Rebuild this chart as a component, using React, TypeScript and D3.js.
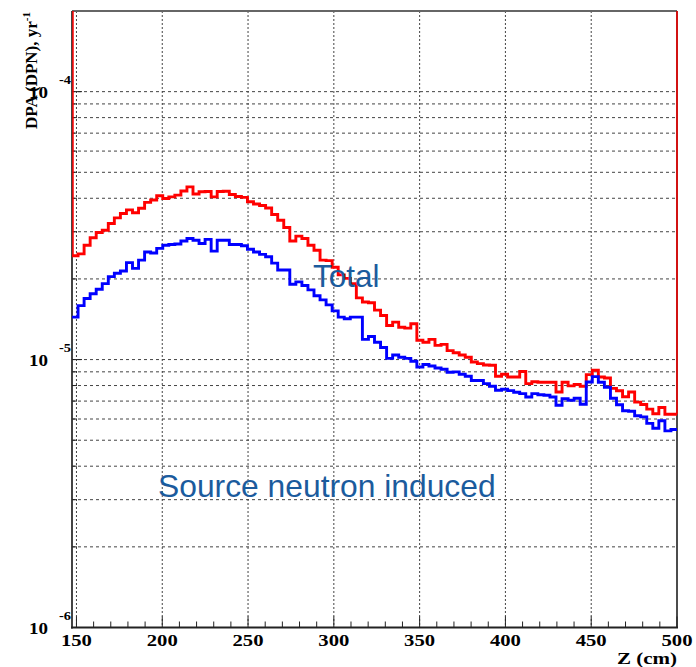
import React from "react";
import * as d3 from "d3";

// Z range of the histogram (cm) and bin count
const zMin = 147.4;
const zMax = 500;
const nBins = 100;

// Total DPA per bin, in units of 1e-5 /yr (red)
const totalDPA = [
  2.44, 2.48, 2.67, 2.85, 2.98, 3.04, 3.22, 3.38, 3.51, 3.62,
  3.53, 3.67, 3.86, 3.94, 4.09, 3.99, 4.05, 4.11, 4.26, 4.41,
  4.15, 4.23, 4.24, 4.05, 4.24, 4.25, 4.13, 4.06, 4.03, 3.88,
  3.81, 3.76, 3.68, 3.48, 3.31, 3.11, 2.77, 2.89, 2.83, 2.67,
  2.56, 2.35, 2.34, 2.21, 2.07, 2.01, 1.92, 1.70, 1.64, 1.63,
  1.53, 1.46, 1.34, 1.38, 1.32, 1.31, 1.36, 1.18, 1.16, 1.19,
  1.13, 1.14, 1.08, 1.06, 1.04, 1.02, 0.98, 0.966, 0.955, 0.952,
  0.866, 0.881, 0.861, 0.861, 0.903, 0.813, 0.826, 0.823, 0.823, 0.823,
  0.757, 0.823, 0.798, 0.807, 0.795, 0.879, 0.912, 0.861, 0.854, 0.781,
  0.765, 0.727, 0.757, 0.694, 0.68, 0.653, 0.628, 0.662, 0.625, 0.625,
];

// Source-neutron-induced DPA per bin, in units of 1e-5 /yr (blue)
const sourceDPA = [
  1.44, 1.59, 1.69, 1.76, 1.83, 1.92, 2.04, 2.1, 2.14, 2.3,
  2.19, 2.35, 2.52, 2.5, 2.6, 2.67, 2.69, 2.7, 2.77, 2.83,
  2.79, 2.71, 2.81, 2.54, 2.79, 2.79, 2.69, 2.69, 2.66, 2.58,
  2.52, 2.47, 2.42, 2.29, 2.16, 2.16, 1.91, 1.95, 1.89, 1.82,
  1.73, 1.67, 1.6, 1.52, 1.44, 1.42, 1.44, 1.44, 1.19, 1.22,
  1.16, 1.11, 1.01, 1.04, 1.02, 1.01, 0.986, 0.938, 0.958, 0.946,
  0.93, 0.92, 0.897, 0.9, 0.881, 0.866, 0.835, 0.835, 0.813, 0.795,
  0.768, 0.775, 0.766, 0.755, 0.746, 0.725, 0.746, 0.739, 0.736, 0.725,
  0.675, 0.714, 0.705, 0.717, 0.681, 0.825, 0.864, 0.823, 0.788, 0.717,
  0.678, 0.644, 0.641, 0.617, 0.611, 0.578, 0.554, 0.591, 0.542, 0.548,
];
const unit = 1e-5;

const xMajorTicks = [150, 200, 250, 300, 350, 400, 450, 500];
const xTickLabels = ["150", "200", "250", "300", "350", "400", "450", "500"];
const yDecades = [1e-6, 1e-5, 1e-4];
const yExponents = ["-6", "-5", "-4"];
const yDomain = [1e-6, 2e-4];

const W = 696;
const H = 667;
const L = 72, R = 677, T = 11, B = 627.5;

export default function App() {
  const x = d3.scaleLinear().domain([zMin, zMax]).range([L, R]);
  const y = d3.scaleLog().domain(yDomain).range([B, T]);
  const bw = (zMax - zMin) / nBins;
  const edges = d3.range(nBins + 1).map((i) => zMin + i * bw);

  const stepLine = d3
    .line<[number, number]>()
    .x((d) => x(d[0]))
    .y((d) => y(d[1]))
    .curve(d3.curveStepAfter);
  const pts = (vals: number[]): [number, number][] => {
    const p: [number, number][] = vals.map((v, i) => [edges[i], v * unit]);
    p.push([edges[nBins], vals[vals.length - 1] * unit]);
    return p;
  };

  const xMinor = d3.range(160, 500, 10).filter((v) => v % 50 !== 0);
  const yMinor: number[] = [];
  for (const dec of [1e-6, 1e-5, 1e-4]) {
    for (let k = 2; k <= 9; k++) {
      const v = dec * k;
      if (v < yDomain[1] * 0.999) yMinor.push(v);
    }
  }
  const yGrid = [...yDecades.slice(1), ...yMinor];

  const serif = "'Liberation Serif', 'Times New Roman', serif";
  const sans = "'Liberation Sans', Arial, sans-serif";
  const textBlue = "#1b5b9d";

  return (
    <svg
      width={W}
      height={H}
      style={{ position: "absolute", left: 0, top: 0, background: "#fff" }}
    >
      {/* grid */}
      <g>
        {xMajorTicks.slice(0, -1).map((v) => (
          <line key={"vg" + v} x1={x(v)} x2={x(v)} y1={T} y2={B} stroke="#444" strokeWidth={1} strokeDasharray="2,2" />
        ))}
        {yGrid.map((v, i) => (
          <line key={"hg" + i} x1={L} x2={R} y1={y(v)} y2={y(v)} stroke="#444" strokeWidth={1} strokeDasharray="3,3" />
        ))}
      </g>

      {/* frame */}
      <line x1={L} x2={R} y1={T} y2={T} stroke="#666" strokeWidth={2} />
      <line x1={R} x2={R} y1={T} y2={B} stroke="#111" strokeWidth={1.5} />
      <line x1={L} x2={L} y1={T} y2={B + 1} stroke="#444" strokeWidth={2} />
      <line x1={L - 1} x2={R + 1} y1={B} y2={B} stroke="#222" strokeWidth={2} />

      {/* ticks */}
      {xMajorTicks.map((v) => (
        <line key={"xt" + v} x1={x(v)} x2={x(v)} y1={B} y2={B - 11} stroke="#222" strokeWidth={1} />
      ))}
      {xMinor.map((v) => (
        <line key={"xm" + v} x1={x(v)} x2={x(v)} y1={B} y2={B - 6} stroke="#222" strokeWidth={1} />
      ))}
      {yDecades.map((v) => (
        <line key={"yt" + v} x1={L} x2={L + 10} y1={y(v)} y2={y(v)} stroke="#222" strokeWidth={1} />
      ))}
      {yMinor.map((v, i) => (
        <line key={"ym" + i} x1={L} x2={L + 5} y1={y(v)} y2={y(v)} stroke="#222" strokeWidth={1} />
      ))}

      {/* histograms */}
      <line x1={x(zMin) + 1} x2={x(zMin) + 1} y1={T} y2={y(totalDPA[0] * unit)} stroke="#ff0000" strokeWidth={1.5} />
      <line x1={R} x2={R} y1={T} y2={y(totalDPA[nBins - 1] * unit)} stroke="#ff0000" strokeWidth={1.5} />
      <path d={stepLine(pts(totalDPA)) || ""} fill="none" stroke="#ff0000" strokeWidth={2.9} />
      <path d={stepLine(pts(sourceDPA)) || ""} fill="none" stroke="#0000ff" strokeWidth={2.9} />

      {/* x labels */}
      {xMajorTicks.map((v, i) => (
        <text
          key={"xl" + v}
          x={x(v)}
          y={646}
          textAnchor="middle"
          fontFamily={serif}
          fontWeight="bold"
          fontSize={16}
          textLength={31}
          lengthAdjust="spacingAndGlyphs"
          fill="#000"
        >
          {xTickLabels[i]}
        </text>
      ))}
      <text x={R} y={664} textAnchor="end" fontFamily={serif} fontWeight="bold" fontSize={16} textLength={60} lengthAdjust="spacingAndGlyphs">
        Z (cm)
      </text>

      {/* y labels */}
      {yDecades.map((v, i) => (
        <g key={"yl" + v}>
          <text x={29} y={y(v) + 6} fontFamily={serif} fontWeight="bold" fontSize={17} textLength={19} lengthAdjust="spacingAndGlyphs">
            10
          </text>
          <text x={71} y={y(v) - 8} textAnchor="end" fontFamily={serif} fontWeight="bold" fontSize={12} textLength={12} lengthAdjust="spacingAndGlyphs">
            {yExponents[i]}
          </text>
        </g>
      ))}
      <text transform="translate(37,12) rotate(-90)" textAnchor="end" fontFamily={serif} fontWeight="bold" fontSize={17}>
        DPA (DPN), yr
        <tspan fontSize={11} dy={-7}>-1</tspan>
      </text>

      {/* annotations */}
      <text x={313} y={287} fontFamily={sans} fontSize={31.5} fill={textBlue}>
        Total
      </text>
      <text x={158} y={497} fontFamily={sans} fontSize={31.8} fill={textBlue}>
        Source neutron induced
      </text>
    </svg>
  );
}
